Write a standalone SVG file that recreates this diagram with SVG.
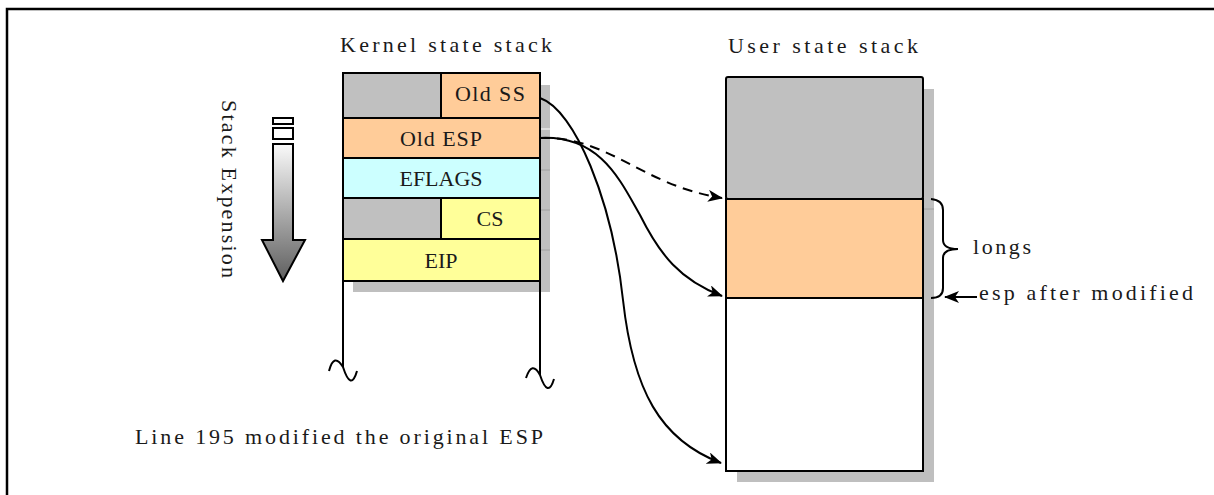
<svg xmlns="http://www.w3.org/2000/svg" width="1214" height="495" viewBox="0 0 1214 495">
<style>
  .t{font-family:"Liberation Serif","Times New Roman",serif;font-size:22px;fill:#1a1a1a}
  .c{text-anchor:middle}
  .cell{stroke:#000;stroke-width:2}
  .gray{fill:#c0c0c0}
  .org{fill:#ffcc99}
  .cyan{fill:#ccffff}
  .yel{fill:#ffff99}
  .wh{fill:#fff}
  .shadow{fill:#bfbfbf}
  .ln{fill:none;stroke:#000;stroke-width:2}
  .conn{fill:none;stroke:#000;stroke-width:2}
</style>
<defs>
  <marker id="ah" markerUnits="userSpaceOnUse" markerWidth="16" markerHeight="12" refX="14" refY="6" orient="auto">
    <path d="M0,0 L15,6 L0,12 L4,6 z" fill="#000"/>
  </marker>
  <linearGradient id="g" gradientUnits="userSpaceOnUse" x1="0" y1="144" x2="0" y2="281">
    <stop offset="0" stop-color="#fafafa"/>
    <stop offset="1" stop-color="#5e5e5e"/>
  </linearGradient>
</defs>
<rect width="1214" height="495" fill="#fff"/>
<path d="M7,495 V9 H1214" fill="none" stroke="#000" stroke-width="2.5"/>

<g id="expansion">
  <rect x="273" y="118" width="20" height="6" fill="#fff" stroke="#000" stroke-width="2"/>
  <rect x="273" y="128" width="20" height="11" fill="#fff" stroke="#000" stroke-width="2"/>
  <polygon points="273,144 293,144 293,240 305,240 283,281 262,240 273,240" fill="url(#g)" stroke="#000" stroke-width="2"/>
  <text class="t" transform="translate(222,100) rotate(90)" textLength="178" lengthAdjust="spacing">Stack Expension</text>
</g>

<g id="kernel-stack">
  <text class="t" x="340" y="52" textLength="212" lengthAdjust="spacing">Kernel state stack</text>
  <rect class="shadow" x="353" y="85" width="197" height="207"/>
  <line x1="540" y1="129" x2="550" y2="129" stroke="#fff" stroke-width="1"/>
  <line x1="540" y1="170" x2="550" y2="170" stroke="#a0a0a0" stroke-width="1"/>
  <line x1="540" y1="210" x2="550" y2="210" stroke="#a0a0a0" stroke-width="1"/>
  <line x1="540" y1="250" x2="550" y2="250" stroke="#a0a0a0" stroke-width="1"/>
  <rect class="cell gray" x="343" y="73" width="98" height="45"/>
  <rect class="cell org" x="441" y="73" width="99" height="45"/>
  <rect class="cell org" x="343" y="118" width="197" height="40"/>
  <rect class="cell cyan" x="343" y="158" width="197" height="40"/>
  <rect class="cell gray" x="343" y="198" width="98" height="41"/>
  <rect class="cell yel" x="441" y="198" width="99" height="41"/>
  <rect class="cell yel" x="343" y="239" width="197" height="42"/>
  <text class="t c" x="490" y="101" textLength="70" lengthAdjust="spacing">Old SS</text>
  <text class="t c" x="441" y="146" textLength="82" lengthAdjust="spacing">Old ESP</text>
  <text class="t c" x="441" y="186">EFLAGS</text>
  <text class="t c" x="490" y="226">CS</text>
  <text class="t c" x="441" y="268">EIP</text>
  <path class="ln" d="M343,281 V367"/>
  <path class="ln" d="M540,281 V375"/>
  <path class="ln" d="M329,371 Q334,352 343,367 Q351,392 357,371"/>
  <path class="ln" d="M526,378 Q532,360 540,375 Q548,399 554,379"/>
</g>

<g id="user-stack">
  <text class="t" x="728" y="53" textLength="190" lengthAdjust="spacing">User state stack</text>
  <rect class="shadow" x="737" y="89" width="197" height="393"/>
  <line x1="923" y1="209" x2="934" y2="209" stroke="#a0a0a0" stroke-width="1"/>
  <rect class="cell gray" x="726" y="77" width="197" height="122" rx="2"/>
  <rect class="cell org" x="726" y="199" width="197" height="99"/>
  <rect class="cell wh" x="726" y="298" width="197" height="173"/>
</g>

<g id="longs-label">
  <path class="ln" d="M931,199 Q943,200 943,210 V240 Q943,249 958,249 Q943,249 943,258 V288 Q943,298 931,298"/>
  <text class="t" x="973" y="254" textLength="58" lengthAdjust="spacing">longs</text>
</g>

<g id="esp-label">
  <text class="t" x="979" y="300" textLength="214" lengthAdjust="spacing">esp after modified</text>
</g>

<g id="note">
  <text class="t" x="135" y="444" textLength="408" lengthAdjust="spacing">Line 195 modified the original ESP</text>
</g>

<g id="connectors">
  <path class="conn" d="M540,98 C575,110 612,200 623,300 C633,390 660,440 721,463" marker-end="url(#ah)"/>
  <path class="conn" d="M540,138 C600,135 620,180 640,215 C660,255 680,280 722,296" marker-end="url(#ah)"/>
  <path class="conn" d="M540,138 C610,136 640,185 722,198" stroke-dasharray="10,7" marker-end="url(#ah)"/>
  <path class="conn" d="M977,297 H945" marker-end="url(#ah)"/>
</g>
</svg>
